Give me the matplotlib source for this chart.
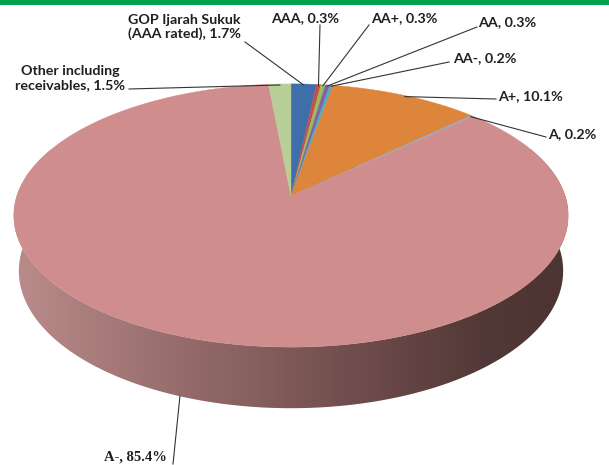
import numpy as np
import matplotlib
matplotlib.use('Agg')
import matplotlib.pyplot as plt
from matplotlib.patches import Polygon, Rectangle
from matplotlib.colors import LinearSegmentedColormap

# ---- data ----
categories = ['GOP Ijarah Sukuk\n(AAA rated)', 'AAA', 'AA+', 'AA', 'AA-',
              'A+', 'A', 'A-', 'Other including\nreceivables']
values = [1.7, 0.3, 0.3, 0.3, 0.2, 10.1, 0.2, 85.4, 1.5]

# ---- styles ----
colors = ['#3E6FAB', '#C0504D', '#9BBB59', '#8064A2', '#4BACC6',
          '#DD853A', '#9AA6BE', '#D08D8D', '#B7CE96']
# label anchor (pixel coords), ha, leader start (pixel coords)
label_pos = [(184, 27, 'center'), (271, 18, 'left'), (371, 18, 'left'),
             (478, 22, 'left'), (453, 58, 'left'), (498, 96, 'left'),
             (548, 134, 'left'), (104, 457, 'left'), (70, 78, 'center')]
leader_start = [(245, 42), (320, 25), (369, 25), (477, 27), (449, 62),
                (496, 99), (546, 137), (173, 464), (129, 89)]

W, Hh = 609, 465
fig = plt.figure(figsize=(W / 100, Hh / 100), dpi=100)
ax = fig.add_axes([0, 0, 1, 1])

# perspective projection of a unit disk
CX, CY, F, L, E, DEPTH = 291.0, 196.0, 1634.0, 5.96, np.radians(28), 0.231
c, s = np.cos(E), np.sin(E)


def proj(theta, r=1.0, z=0.0):
    X = r * np.sin(theta)
    Y = -r * np.cos(theta)
    d = L - Y * c - z * s
    return CX + F * X / d, CY + F * (Y * s - z * c) / d


# green band at top
ax.add_patch(Rectangle((0, 0), W, 5, color='#00A14B', lw=0, zorder=1))

# side wall with horizontal gradient
th = np.linspace(np.radians(60), np.radians(300), 300)
tx, ty = proj(th, 1.0, 0.0)
bx, by = proj(th[::-1], 1.0, -DEPTH)
side = Polygon(np.column_stack([np.r_[tx, bx], np.r_[ty, by]]),
               closed=True, fc='none', ec='none', zorder=2)
ax.add_patch(side)
cmap = LinearSegmentedColormap.from_list('side', [
    (0.0, (186/255, 139/255, 138/255)),
    (0.5, (126/255, 88/255, 88/255)),
    (0.85, (82/255, 56/255, 54/255)),
    (1.0, (76/255, 52/255, 50/255))])
grad = np.linspace(0, 1, 256)[None, :]
im = ax.imshow(grad, extent=[14, 568, 420, 150], cmap=cmap, aspect='auto',
               interpolation='bilinear', zorder=2)
im.set_clip_path(side)

# top face wedges
total = sum(values)
cum = np.cumsum([0] + values) / total * 2 * np.pi
mids = []
for i, v in enumerate(values):
    a0, a1 = cum[i], cum[i + 1]
    n = max(4, int((a1 - a0) / (2 * np.pi) * 720))
    t = np.linspace(a0, a1, n)
    ax_, ay_ = proj(t)
    xs = np.r_[CX, ax_]
    ys = np.r_[CY, ay_]
    ax.add_patch(Polygon(np.column_stack([xs, ys]), closed=True,
                         fc=colors[i], ec=colors[i], lw=0.3, zorder=3))
    mids.append((a0 + a1) / 2)

# labels and leader lines
txtcolor = '#231F20'
for i, (cat, v) in enumerate(zip(categories, values)):
    x, y, ha = label_pos[i]
    txt = f'{cat}, {v:.1f}%'
    if cat == 'A-':
        ax.text(x, y, txt, ha=ha, va='center', fontsize=10.5,
                family='Liberation Serif', weight='bold', color=txtcolor,
                zorder=5)
        ex, ey = proj(mids[i], 1.0, -DEPTH)
    else:
        ax.text(x, y, txt, ha=ha, va='center', fontsize=10.3, family='Lato',
                weight='bold', color=txtcolor, linespacing=1.15,
                multialignment='center', zorder=5)
        ex, ey = proj(mids[i], 0.99, 0.0)
    sx, sy = leader_start[i]
    ax.plot([sx, ex], [sy, ey], color='#333333', lw=0.8, zorder=4)

ax.set_xlim(0, W)
ax.set_ylim(Hh, 0)
ax.axis('off')
fig.savefig('out.png', dpi=100)
